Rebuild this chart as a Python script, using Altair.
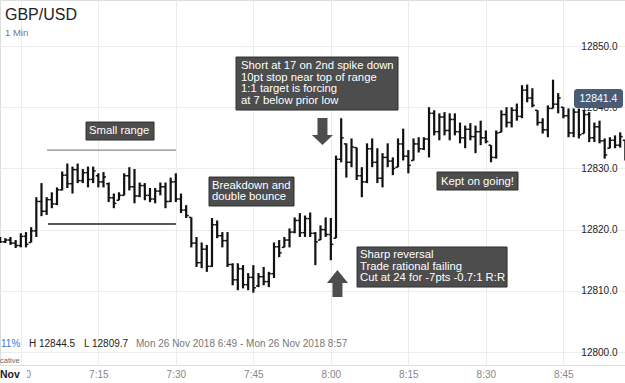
import altair as alt
import pandas as pd

FONT = "Liberation Sans"

# minutes after 07:00 (Mon 26 Nov 2018), one OHLC bar per minute
minutes = list(range(-4, 118))
high = [12818.8, 12818.6, 12818.8, 12818.3, 12819.4, 12819.6, 12820.4, 12825.3, 12827.6, 12825.3,
        12826.1, 12826.9, 12829.5, 12830.8, 12830.3, 12830.8, 12829.9, 12830.3, 12830.3, 12829.2,
        12829.4, 12827.7, 12825.9, 12826.1, 12829.2, 12830.2, 12829.9, 12827.7, 12827.6, 12826.8,
        12826.8, 12827.7, 12827.7, 12828.5, 12829.2, 12825.9, 12824.0, 12822.0, 12818.8, 12817.9,
        12817.5, 12821.9, 12821.5, 12819.6, 12819.6, 12814.5, 12814.5, 12814.2, 12812.9, 12814.2,
        12812.9, 12813.9, 12813.1, 12817.9, 12818.3, 12818.8, 12820.2, 12822.0, 12822.7, 12822.3,
        12822.8, 12819.6, 12820.7, 12822.0, 12821.9, 12832.1, 12838.2, 12834.1, 12834.9, 12833.4,
        12830.2, 12834.1, 12834.9, 12833.3, 12832.5, 12834.1, 12831.8, 12834.9, 12836.5, 12833.0,
        12834.9, 12835.1, 12835.1, 12840.0, 12839.5, 12839.0, 12839.2, 12839.0, 12839.0, 12837.5,
        12837.0, 12837.4, 12837.0, 12837.8, 12836.2, 12833.8, 12836.2, 12839.5, 12840.0, 12840.0,
        12840.6, 12843.6, 12843.7, 12843.1, 12839.5, 12838.2, 12840.3, 12844.5, 12842.3, 12840.0,
        12839.8, 12839.8, 12839.8, 12839.5, 12839.2, 12837.5, 12837.8, 12834.9, 12835.1, 12835.4,
        12835.9, 12834.6]
low = [12817.8, 12817.8, 12817.5, 12817.0, 12817.1, 12817.1, 12817.9, 12818.8, 12822.2, 12822.4,
       12823.5, 12824.0, 12826.4, 12826.8, 12825.9, 12827.6, 12827.6, 12826.9, 12827.6, 12826.9,
       12826.9, 12824.5, 12823.5, 12824.8, 12825.6, 12826.4, 12824.3, 12825.3, 12824.8, 12824.5,
       12824.3, 12825.6, 12823.5, 12824.5, 12824.5, 12822.7, 12821.9, 12817.1, 12813.9, 12813.7,
       12813.1, 12813.9, 12818.6, 12817.1, 12813.9, 12810.9, 12810.1, 12810.4, 12810.1, 12809.7,
       12810.6, 12810.9, 12810.6, 12812.1, 12815.5, 12817.1, 12817.1, 12819.4, 12818.8, 12818.8,
       12818.8, 12814.2, 12818.3, 12818.8, 12815.0, 12818.6, 12831.0, 12828.5, 12830.2, 12828.1,
       12825.3, 12827.6, 12830.2, 12827.6, 12826.9, 12830.2, 12828.9, 12830.2, 12831.3, 12829.2,
       12831.3, 12832.6, 12833.0, 12831.8, 12835.4, 12834.6, 12835.4, 12834.6, 12835.4, 12834.1,
       12833.3, 12834.6, 12832.5, 12833.8, 12834.1, 12831.0, 12831.6, 12835.9, 12836.7, 12836.7,
       12837.8, 12838.2, 12840.8, 12840.0, 12837.0, 12835.7, 12835.1, 12839.8, 12839.0, 12838.2,
       12835.1, 12835.1, 12834.9, 12835.7, 12834.3, 12834.3, 12834.1, 12831.6, 12833.3, 12833.3,
       12833.4, 12831.3]
open_ = [12818.5, 12818.0, 12818.3, 12817.8, 12817.4, 12818.9, 12817.9, 12819.8, 12824.6, 12823.0,
         12824.9, 12824.2, 12826.5, 12828.9, 12827.5, 12829.8, 12828.0, 12829.3, 12828.2, 12828.8,
         12827.8, 12827.5, 12825.2, 12824.8, 12825.6, 12828.8, 12827.0, 12825.5, 12827.2, 12825.6,
         12825.0, 12826.3, 12827.0, 12824.6, 12827.8, 12825.0, 12823.2, 12822.0, 12817.8, 12814.6,
         12816.8, 12814.0, 12820.8, 12819.0, 12818.2, 12814.3, 12811.8, 12813.6, 12811.0, 12812.2,
         12810.8, 12812.3, 12811.5, 12812.8, 12817.2, 12817.1, 12818.3, 12819.6, 12821.5, 12819.5,
         12821.8, 12819.4, 12818.3, 12820.0, 12819.2, 12818.6, 12831.5, 12834.0, 12831.0, 12833.4,
         12828.8, 12827.8, 12833.2, 12831.0, 12828.4, 12831.8, 12831.2, 12830.2, 12834.0, 12832.0,
         12831.3, 12834.0, 12833.2, 12834.8, 12839.0, 12836.0, 12838.4, 12836.2, 12838.0, 12836.0,
         12835.0, 12836.4, 12835.2, 12836.0, 12835.0, 12833.8, 12831.8, 12835.9, 12838.8, 12837.5,
         12839.5, 12838.5, 12842.8, 12841.5, 12839.5, 12837.5, 12836.3, 12839.8, 12840.5, 12840.0,
         12838.6, 12835.8, 12839.2, 12835.7, 12838.8, 12835.0, 12836.8, 12834.5, 12833.3, 12834.6,
         12833.8, 12834.6]
close = [12818.0, 12818.3, 12817.8, 12817.4, 12818.9, 12817.6, 12819.8, 12824.6, 12823.0, 12824.9,
         12824.2, 12826.5, 12828.9, 12827.5, 12829.8, 12828.0, 12829.3, 12828.2, 12829.6, 12827.8,
         12828.6, 12825.2, 12824.3, 12825.6, 12828.8, 12827.0, 12825.5, 12827.2, 12825.6, 12825.0,
         12826.3, 12827.0, 12824.6, 12827.8, 12825.0, 12823.2, 12822.3, 12817.8, 12814.6, 12816.8,
         12814.0, 12820.8, 12819.0, 12818.2, 12814.3, 12811.8, 12813.6, 12811.0, 12812.2, 12810.5,
         12812.3, 12811.5, 12812.8, 12817.2, 12816.2, 12818.3, 12819.6, 12821.5, 12819.5, 12821.8,
         12819.4, 12818.0, 12820.0, 12819.2, 12817.6, 12831.5, 12835.0, 12831.0, 12833.5, 12828.8,
         12827.8, 12833.2, 12831.0, 12828.4, 12831.8, 12831.2, 12830.0, 12834.0, 12832.0, 12830.5,
         12834.0, 12833.2, 12834.8, 12839.0, 12836.0, 12838.4, 12836.2, 12838.0, 12836.0, 12835.0,
         12836.4, 12835.2, 12836.0, 12835.0, 12834.4, 12831.8, 12835.8, 12838.8, 12837.5, 12839.5,
         12838.5, 12842.8, 12841.5, 12840.3, 12837.5, 12836.3, 12839.8, 12840.5, 12841.5, 12838.6,
         12835.8, 12839.2, 12835.5, 12838.8, 12835.0, 12836.8, 12834.5, 12832.2, 12834.6, 12833.8,
         12835.2, 12832.0]

x_ticks = [0, 15, 30, 45, 60, 75, 90, 105]
y_ticks = [12800, 12810, 12820, 12830, 12840, 12850]

# annotation boxes (minutes / price units)
box_x1 = [12.62, 36.42, 41.65, 80.55, 65.07]
box_x2 = [25.78, 52.87, 73.0, 96.22, 94.1]
box_y1 = [12834.64, 12823.86, 12839.54, 12826.47, 12810.62]
box_y2 = [12837.58, 12828.59, 12848.2, 12829.41, 12817.16]

note_text = ["Small range", "Breakdown and", "double bounce",
             "Short at 17 on 2nd spike down", "10pt stop near top of range",
             "1:1 target is forcing", "at 7 below prior low",
             "Kept on going!",
             "Sharp reversal", "Trade rational failing", "Cut at 24 for -7pts -0.7:1 R:R"]
note_x = [13.2, 37.0, 37.0, 42.62, 42.62, 42.62, 42.62, 81.32, 65.65, 65.65, 65.65]
note_y = [12836.11, 12827.12, 12825.25, 12846.73, 12844.85, 12842.97, 12841.09,
          12827.86, 12815.85, 12813.97, 12812.09]

range_x1 = [5.07, 5.26]
range_x2 = [30.03, 30.03]
range_y = [12833.0, 12820.92]
range_col = ["#8a8a8a", "#222222"]

arrow_x = [58.38, 61.28]
arrow_y = [12836.03, 12811.19]

last_price = 12841.4

df = pd.DataFrame({"m": minutes, "high": high, "low": low, "open": open_, "close": close})
boxes = pd.DataFrame({"x1": box_x1, "x2": box_x2, "y1": box_y1, "y2": box_y2})
notes = pd.DataFrame({"x": note_x, "y": note_y, "t": note_text})
ranges = pd.DataFrame({"x1": range_x1, "x2": range_x2, "y": range_y, "c": range_col})
arrows_down = pd.DataFrame({"x": [arrow_x[0]], "y": [arrow_y[0]]})
arrows_up = pd.DataFrame({"x": [arrow_x[1]], "y": [arrow_y[1]]})
price = pd.DataFrame({"x1": [107.06], "x2": [116.54], "y1": [12839.87], "y2": [12842.97],
                      "x": [111.8], "y": [last_price], "t": ["12841.4"]})
one = pd.DataFrame({"a": [0]})

xs = alt.Scale(domain=[-4.03, 116.93], nice=False, zero=False)
ys = alt.Scale(domain=[12797.88, 12857.52], nice=False, zero=False)

x_axis = alt.Axis(values=x_ticks, title=None, grid=True, gridColor="#ececec", domain=False,
                  ticks=False, labelColor="#888888", labelFontSize=10, labelFont=FONT,
                  labelPadding=9, labelBaseline="middle", labelFlush=False, labelOverlap=False,
                  labelExpr="floor(datum.value/60)+7 + ':' + (datum.value%60 < 10 ? '0' : '') + datum.value%60")
y_axis = alt.Axis(orient="right", values=y_ticks, format=".1f", title=None, grid=True,
                  gridColor="#ececec", domain=False, ticks=False, labelAlign="right",
                  labelPadding=-8, labelColor="#222222", labelFontSize=10, labelFont=FONT,
                  labelBaseline="middle", labelOverlap=False, labelFlush=False)

X = lambda f: alt.X(f, scale=xs, title=None)
Y = lambda f: alt.Y(f, scale=ys, title=None)

base = alt.Chart(df)
hl = base.mark_rule(color="#111111", strokeWidth=2.2).encode(
    x=alt.X("m:Q", scale=xs, axis=x_axis), y=alt.Y("low:Q", scale=ys, axis=y_axis), y2="high:Q")
op = base.mark_rule(color="#111111", strokeWidth=1.5, xOffset=-2.5).encode(
    x=X("m:Q"), x2="m:Q", y=Y("open:Q"))
cl = base.mark_rule(color="#111111", strokeWidth=1.5, x2Offset=2.5).encode(
    x=X("m:Q"), x2="m:Q", y=Y("close:Q"))

range_lines = alt.Chart(ranges).mark_rule(strokeWidth=1.3).encode(
    x=X("x1:Q"), x2="x2:Q", y=Y("y:Q"), color=alt.Color("c:N", scale=None))

box_marks = alt.Chart(boxes).mark_rect(fill="#4d4d4d", stroke="#2e2e2e", strokeWidth=1).encode(
    x=X("x1:Q"), x2="x2:Q", y=Y("y1:Q"), y2="y2:Q")
note_marks = alt.Chart(notes).mark_text(align="left", baseline="middle", color="#ffffff",
                                        font=FONT, fontSize=11.3).encode(
    x=X("x:Q"), y=Y("y:Q"), text="t:N")

down_path = "M-0.37,-1 L0.37,-1 L0.37,0.26 L0.78,0.26 L0,1 L-0.78,0.26 L-0.37,0.26 Z"
up_path = "M0,-1 L0.78,-0.04 L0.37,-0.04 L0.37,1 L-0.37,1 L-0.37,-0.04 L-0.78,-0.04 Z"
arr_down = alt.Chart(arrows_down).mark_point(shape=down_path, filled=True, size=729,
                                             color="#4d4d4d", opacity=1, strokeWidth=0).encode(
    x=X("x:Q"), y=Y("y:Q"))
arr_up = alt.Chart(arrows_up).mark_point(shape=up_path, filled=True, size=729,
                                         color="#4d4d4d", opacity=1, strokeWidth=0).encode(
    x=X("x:Q"), y=Y("y:Q"))

price_box = alt.Chart(price).mark_rect(fill="#4a5b77", cornerRadius=3).encode(
    x=X("x1:Q"), x2="x2:Q", y=Y("y1:Q"), y2="y2:Q")
price_txt = alt.Chart(price).mark_text(color="#ffffff", font=FONT, fontSize=10.5,
                                       align="center", baseline="middle").encode(
    x=X("x:Q"), y=Y("y:Q"), text="t:N")


def label(txt, x, y, size, color, weight="normal"):
    return alt.Chart(one).mark_text(text=txt, align="left", baseline="middle", font=FONT,
                                    fontSize=size, color=color, fontWeight=weight).encode(
        x=alt.value(x), y=alt.value(y))


cover = alt.Chart(one).mark_rect(color="#ffffff").encode(
    x=alt.value(0), x2=alt.value(27), y=alt.value(367), y2=alt.value(383))

texts = [
    label("GBP/USD", 5, 15, 16, "#222222"),
    label("1 Min", 5, 32.5, 9.5, "#777777"),
    label("11%", 1, 344, 10, "#3a7bd0"),
    label("H 12844.5", 29, 344, 10, "#222222"),
    label("L 12809.7", 84, 344, 10, "#222222"),
    label("Mon 26 Nov 2018 6:49 - Mon 26 Nov 2018 8:57", 136, 344, 10, "#777777"),
    label("cative", 0, 361, 7.5, "#666666"),
]

chart = alt.layer(
    hl, op, cl, range_lines, box_marks, note_marks, arr_down, arr_up, price_box, price_txt,
    *texts, cover, label("Nov", 0, 374.5, 10.5, "#222222", "bold")
).properties(
    width=625, height=365,
    padding={"left": 0, "top": 0, "right": 0, "bottom": 18},
    autosize=alt.AutoSizeParams(type="none"),
    background="#ffffff",
).configure_view(stroke=None).configure(font=FONT)

chart.save("out.html", embed_options={"renderer": "svg", "actions": False})
